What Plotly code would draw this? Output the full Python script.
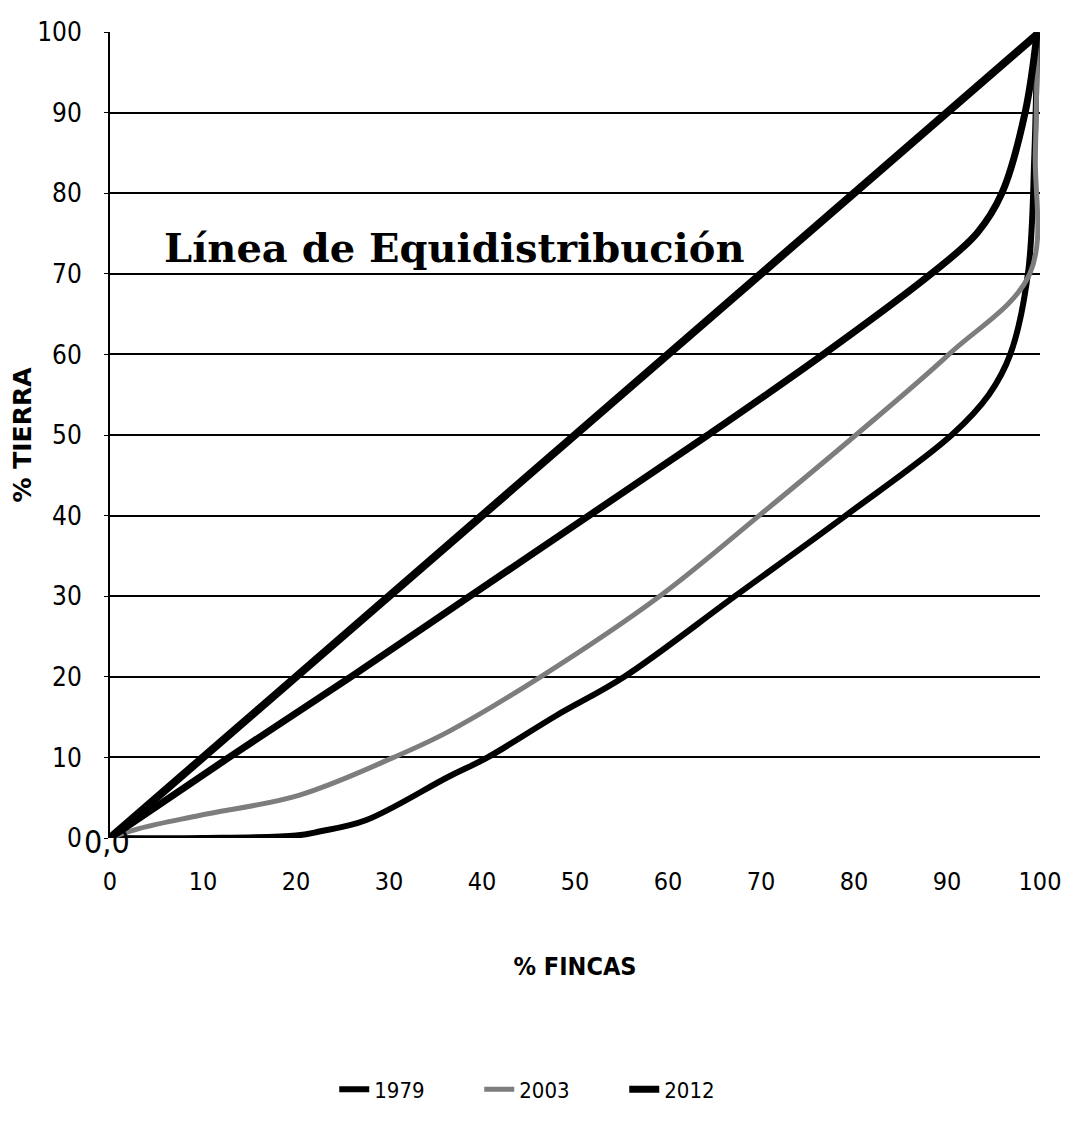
import plotly.graph_objects as go

# Data (x = % fincas, y = % tierra)
equi_x = [0, 100]
equi_y = [0, 100]

x_1979 = [0, 10, 20, 22.5, 27.5, 36.4, 40.6, 48, 55.3, 67.2, 79.1, 90.5, 94.5, 96.8, 98.7, 99.4, 99.7]
y_1979 = [0, 0, 0.3, 0.8, 2.2, 7.6, 10, 15.2, 20, 30, 40, 50, 55, 60, 70, 85, 100]

x_2003 = [0, 3.2, 9.6, 20.3, 30.5, 36.4, 46.3, 59.1, 69.8, 80.2, 90.2, 98.9, 99.5, 99.7]
y_2003 = [0, 1.2, 2.8, 5.3, 10, 13.2, 20, 30, 40, 50, 60, 70, 85, 100]

x_2012 = [0, 12.8, 25.9, 38.7, 51.5, 64.3, 76.7, 88.3, 93.2, 95.9, 98.4, 99.7]
y_2012 = [0, 10, 20, 30, 40, 50, 60, 70, 75, 80, 90, 100]

tick_vals = [0, 10, 20, 30, 40, 50, 60, 70, 80, 90, 100]

NARROW = "Liberation Sans Narrow, Arial Narrow, DejaVu Sans Condensed, sans-serif"

fig = go.Figure()
fig.add_trace(go.Scatter(x=equi_x, y=equi_y, mode="lines", showlegend=False,
                         line=dict(color="black", width=8)))
fig.add_trace(go.Scatter(x=x_1979, y=y_1979, mode="lines", name="1979",
                         line=dict(color="black", width=6, shape="spline", smoothing=1.0)))
fig.add_trace(go.Scatter(x=x_2003, y=y_2003, mode="lines", name="2003",
                         line=dict(color="#7d7d7d", width=5, shape="spline", smoothing=1.0)))
fig.add_trace(go.Scatter(x=x_2012, y=y_2012, mode="lines", name="2012",
                         line=dict(color="black", width=7, shape="spline", smoothing=1.0)))

fig.add_annotation(x=0, y=0, xref="x", yref="y", text="0,0", showarrow=False,
                   font=dict(family=NARROW, size=32, color="black"), yshift=-4, xshift=-3)
fig.add_annotation(x=37.0, y=73.3, xref="x", yref="y", text="<b>Línea de Equidistribución</b>",
                   showarrow=False, font=dict(family="DejaVu Serif", size=40, color="black"))

fig.update_layout(
    width=1056, height=1107,
    margin=dict(l=102, r=24, t=24, b=277, autoexpand=False),
    paper_bgcolor="white", plot_bgcolor="white",
    showlegend=True,
    legend=dict(orientation="h", x=0.475, xanchor="center", y=-0.338, yanchor="bottom",
                entrywidth=100, font=dict(family=NARROW, size=22, color="black")),
)
fig.update_xaxes(range=[0, 100], tickvals=tick_vals, showgrid=False, zeroline=False,
                 showline=False, ticks="", ticklabelstandoff=26, automargin=False,
                 ticklabeloverflow="allow",
                 tickfont=dict(family=NARROW, size=25, color="black"),
                 title=dict(text="<b>% FINCAS</b>", standoff=62,
                            font=dict(family=NARROW, size=25, color="black")))
fig.update_yaxes(range=[0, 100], tickvals=tick_vals, showgrid=True, gridcolor="black",
                 gridwidth=2, zeroline=False, showline=True, linecolor="black", linewidth=2,
                 ticks="outside", ticklen=4, tickcolor="black", ticklabelstandoff=17,
                 automargin=False,
                 tickfont=dict(family=NARROW, size=26, color="black"),
                 title=dict(text="<b>% TIERRA</b>", standoff=8,
                            font=dict(family="DejaVu Sans", size=25, color="black")))

fig.write_html("out.html")
